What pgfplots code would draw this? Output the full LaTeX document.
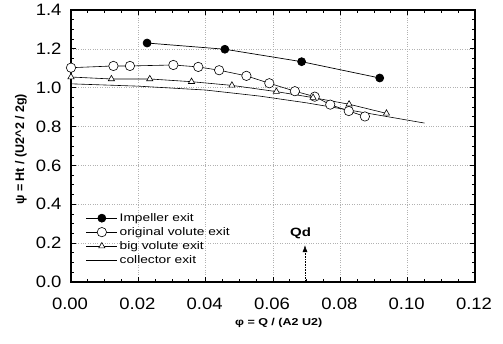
\documentclass[border=0pt]{standalone}
\usepackage{fontspec}
\setmainfont{Liberation Sans}
\newfontfamily\stretched{Liberation Sans}[FakeStretch=1.25]
\newfontfamily\tickfont{Liberation Sans}[FakeStretch=1.12]
\usepackage{pgfplots}
\pgfplotsset{compat=1.18}
\usetikzlibrary{arrows.meta}
\begin{document}
\begin{tikzpicture}
\useasboundingbox (-71pt,-61pt) rectangle (432pt,282pt);
\begin{axis}[at={(0pt,0pt)}, anchor=south west,
  scale only axis, width=404pt, height=272pt,
  xmin=0, xmax=0.12, ymin=0, ymax=1.4,
  xtick={0,0.02,0.04,0.06,0.08,0.10,0.12},
  ytick={0,0.2,0.4,0.6,0.8,1.0,1.2,1.4},
  minor x tick num=3, minor y tick num=3,
  scaled x ticks=false, scaled y ticks=false,
  xticklabel style={/pgf/number format/.cd,fixed,fixed zerofill,precision=2,/tikz/.cd,yshift=-12pt,xshift=-1pt},
  yticklabel style={/pgf/number format/.cd,fixed,fixed zerofill,precision=1,/tikz/.cd,xshift=-6pt},
  /pgf/number format/assume math mode=true,
  ticklabel style={font=\tickfont\fontsize{16.5}{16.5}\selectfont},
  grid=major, major grid style={gray!60, dotted, line width=0.6pt},
  axis line style={line width=1.2pt},
  tick style={black, line width=0.8pt},
  tick align=inside, major tick length=5pt, minor tick length=3pt,
  xlabel={φ = Q / (A2 U2)},
  ylabel={ψ = Ht / (U2\^{}2 / 2g)},
  xlabel style={font=\stretched\bfseries\fontsize{10}{10}\selectfont, at={(axis description cs:0.514,-0.151)}, anchor=center},
  ylabel style={font=\bfseries\fontsize{12.5}{12.5}\selectfont, at={(axis description cs:-0.124,0.488)}, anchor=center},
  legend style={at={(axis cs:0.0041,0.072)}, anchor=south west, draw=none, fill=none,
    font=\stretched\fontsize{11}{11}\selectfont, row sep=0.5pt, inner sep=1pt},
  legend cell align=left,
  legend image code/.code={\draw[mark repeat=2,mark phase=2,#1] plot coordinates {(0pt,0pt) (15.5pt,0pt) (31pt,0pt)};},
]
\addplot[black, line width=0.7pt, mark=*, mark size=4pt] coordinates {
(0.0226,1.230) (0.0457,1.198) (0.0685,1.134) (0.0917,1.050)};
\addlegendentry{Impeller exit}
\addplot[black, line width=0.6pt, mark=*, mark size=4.7pt, mark options={fill=white, line width=0.6pt}] coordinates {
(0.0,1.103) (0.0126,1.112) (0.0175,1.112) (0.0304,1.117) (0.0378,1.107) (0.0440,1.090) (0.0521,1.061) (0.0589,1.023) (0.0665,0.982) (0.0724,0.954) (0.0770,0.913) (0.0825,0.880) (0.0873,0.852)};
\addlegendentry{original volute exit}
\addplot[black, line width=0.6pt, mark=triangle*, mark size=3.6pt, mark options={fill=white, line width=0.6pt}] coordinates {
(0.0,1.055) (0.012,1.045) (0.0234,1.045) (0.0358,1.031) (0.0478,1.012) (0.061,0.980) (0.0719,0.949) (0.0826,0.915) (0.0937,0.868)};
\addlegendentry{big volute exit}
\addplot[black, line width=0.6pt, no marks] coordinates {
(0,1.020) (0.02,1.008) (0.04,0.988) (0.056,0.957) (0.07,0.922) (0.085,0.878) (0.105,0.818)};
\addlegendentry{collector exit}
\draw[densely dotted, line width=0.6pt, -{Latex[length=7pt,width=5pt]}] (axis cs:0.0695,0) -- (axis cs:0.0695,0.19);
\node[font=\stretched\bfseries\fontsize{12}{12}\selectfont] at (axis cs:0.0682,0.252) {Qd};
\end{axis}
\end{tikzpicture}
\end{document}
